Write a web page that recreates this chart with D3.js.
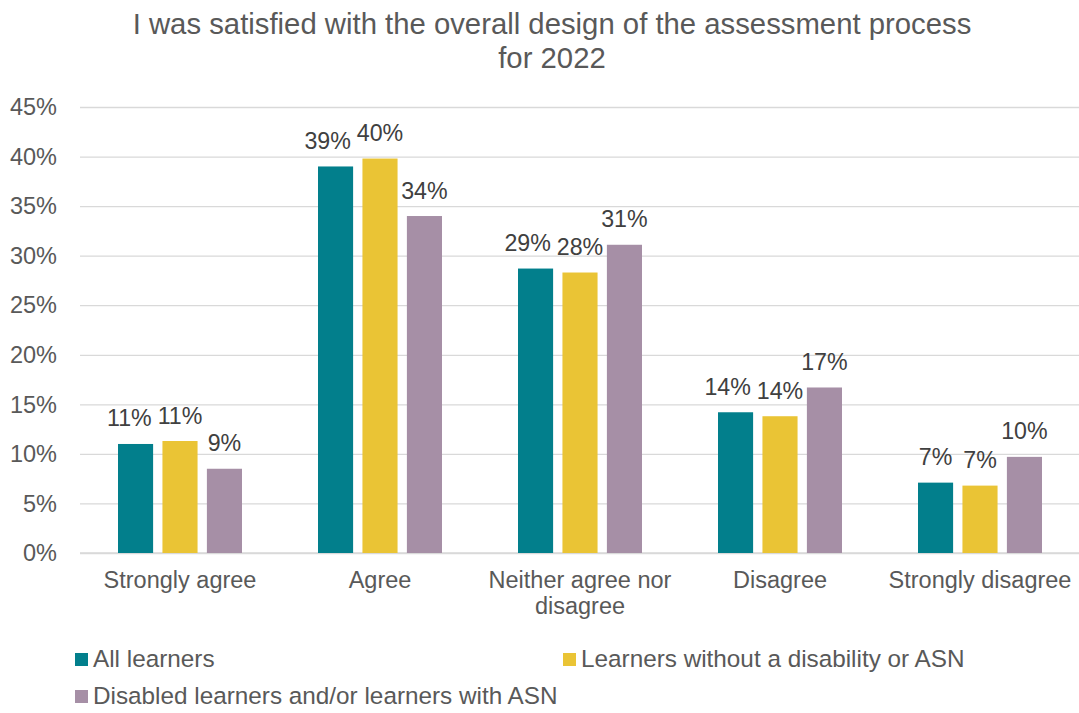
<!DOCTYPE html>
<html>
<head>
<meta charset="utf-8">
<script src="https://cdn.jsdelivr.net/npm/d3@7"></script>
<style>
  html, body { margin: 0; padding: 0; background: #fff; }
  svg { display: block; font-family: "Liberation Sans", Arial, sans-serif; }
</style>
</head>
<body>
<svg id="chart" width="1079" height="713"></svg>
<script>
const titleLines = ["I was satisfied with the overall design of the assessment process", "for 2022"];
const categories = ["Strongly agree", "Agree", "Neither agree nor disagree", "Disagree", "Strongly disagree"];
const categoryLines = [["Strongly agree"], ["Agree"], ["Neither agree nor", "disagree"], ["Disagree"], ["Strongly disagree"]];
const seriesNames = ["All learners", "Learners without a disability or ASN", "Disabled learners and/or learners with ASN"];
const allLearners = [11.0, 39.0, 28.7, 14.2, 7.1];
const withoutDisability = [11.3, 39.8, 28.3, 13.8, 6.8];
const disabledASN = [8.5, 34.0, 31.1, 16.7, 9.7];
const yTicks = [0, 5, 10, 15, 20, 25, 30, 35, 40, 45];
const colors = ["#027F8C", "#EAC435", "#A68FA6"];

const seriesValues = [allLearners, withoutDisability, disabledASN];

const svg = d3.select("#chart");
const plot = { left: 80, right: 1080, top: 107, bottom: 553 };

const x0 = d3.scaleBand().domain(categories).range([plot.left, plot.right]).padding(0);
const groupW = 124;
const x1 = d3.scaleBand().domain(seriesNames).range([0, groupW]).paddingInner(0.21).paddingOuter(0);
const y = d3.scaleLinear().domain([0, 45]).range([plot.bottom, plot.top]);

// Title
svg.append("g").selectAll("text").data(titleLines).join("text")
  .attr("x", 552).attr("y", (d, i) => 34 + i * 34)
  .attr("text-anchor", "middle")
  .attr("fill", "#595959").attr("font-size", 29.3)
  .text(d => d);

// Gridlines + y axis
const yAxis = d3.axisLeft(y).tickValues(yTicks).tickFormat(d => d + "%").tickSize(-(plot.right - plot.left)).tickPadding(23);
const gy = svg.append("g").attr("transform", `translate(${plot.left},0)`).call(yAxis);
gy.select(".domain").remove();
gy.selectAll(".tick line").attr("stroke", "#d9d9d9").attr("stroke-width", 1.3);
gy.selectAll(".tick text").attr("fill", "#595959").attr("font-size", 23.5)
  .attr("font-family", "Liberation Sans, Arial, sans-serif").attr("dy", "0.33em");

// x axis line
svg.append("line").attr("x1", plot.left).attr("x2", plot.right).attr("y1", y(0)).attr("y2", y(0))
  .attr("stroke", "#d9d9d9").attr("stroke-width", 1.3);

// Category labels
const cat = svg.append("g").selectAll("text").data(categories).join("text")
  .attr("x", d => x0(d) + x0.bandwidth() / 2)
  .attr("y", 588)
  .attr("text-anchor", "middle")
  .attr("fill", "#595959").attr("font-size", 23.5);
cat.each(function(d, i) {
  d3.select(this).selectAll("tspan").data(categoryLines[i]).join("tspan")
    .attr("x", x0(d) + x0.bandwidth() / 2)
    .attr("dy", (l, j) => j === 0 ? 0 : 25.5)
    .text(l => l);
});

// Bars and labels
const offset = (x0.bandwidth() - groupW) / 2;
const groups = svg.append("g").selectAll("g").data(categories).join("g")
  .attr("transform", d => `translate(${x0(d) + offset},0)`);

groups.each(function(c, ci) {
  const g = d3.select(this);
  const rows = seriesNames.map((s, si) => ({ s, si, v: seriesValues[si][ci] }));
  g.selectAll("rect").data(rows).join("rect")
    .attr("x", d => x1(d.s))
    .attr("y", d => y(d.v))
    .attr("width", x1.bandwidth())
    .attr("height", d => y(0) - y(d.v))
    .attr("fill", d => colors[d.si]);
  const labels = g.selectAll("text").data(rows).join("text")
    .attr("x", d => x1(d.s) + x1.bandwidth() / 2)
    .attr("y", d => y(d.v) - 17.5)
    .attr("text-anchor", "middle")
    .attr("fill", "#404040").attr("font-size", 23.2)
    .text(d => Math.round(d.v) + "%");
  // simple overlap avoidance: push left label leftwards
  const nodes = labels.nodes();
  for (let k = nodes.length - 2; k >= 0; k--) {
    const a = nodes[k].getBBox(), b = nodes[k + 1].getBBox();
    const vOverlap = a.y < b.y + b.height - 4 && b.y < a.y + a.height - 4;
    const hOverlap = a.x + a.width + 6 - b.x;
    if (vOverlap && hOverlap > 0) {
      const cx = +d3.select(nodes[k]).attr("x");
      d3.select(nodes[k]).attr("x", cx - hOverlap);
    }
  }
});

// Legend
const legendPos = [[75, 667], [563, 667], [75, 704]];
const lg = svg.append("g").selectAll("g").data(seriesNames).join("g")
  .attr("transform", (d, i) => `translate(${legendPos[i][0]},${legendPos[i][1]})`);
lg.append("rect").attr("x", 0).attr("y", -14).attr("width", 13).attr("height", 13).attr("fill", (d, i) => colors[i]);
lg.append("text").attr("x", 18).attr("y", 0).attr("fill", "#595959").attr("font-size", 24.3).text(d => d);
</script>
</body>
</html>
